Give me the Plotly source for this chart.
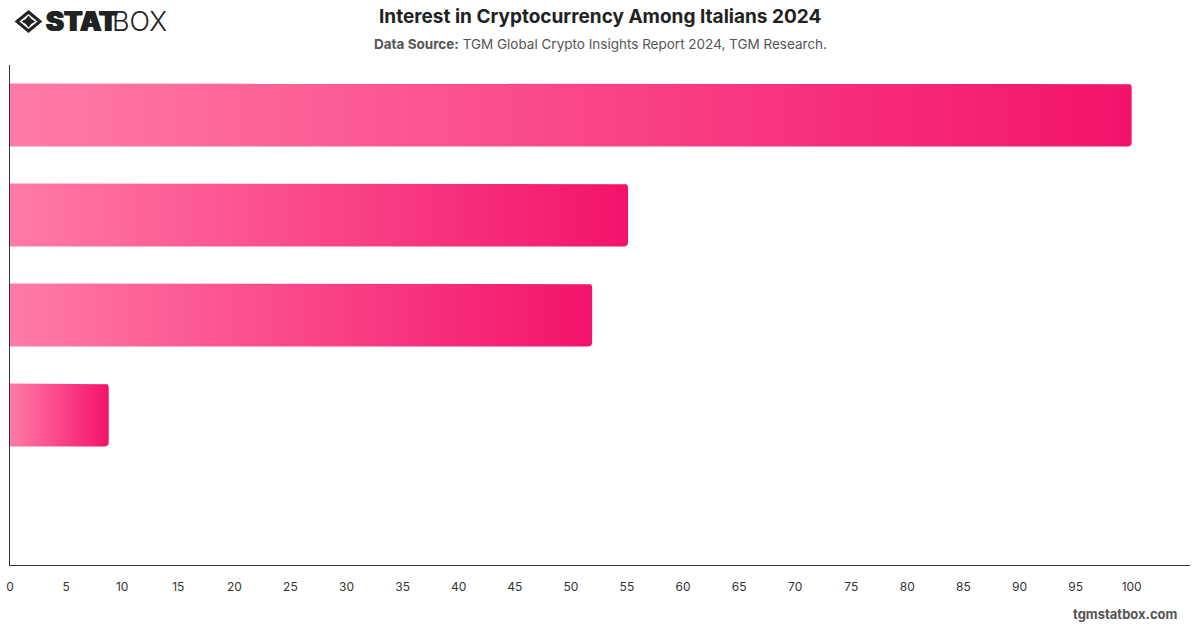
import numpy as np
import plotly.graph_objects as go

# ---- data ----
categories = ["Category A", "Category B", "Category C", "Category D", "Category E"]
values = [100, 55.1, 51.9, 8.8, None]
x_ticks = list(range(0, 101, 5))

title = "Interest in Cryptocurrency Among Italians 2024"
source_label = "Data Source:"
source_text = "TGM Global Crypto Insights Report 2024, TGM Research."

# ---- styling ----
W, H = 1200, 628
margin = dict(l=10, r=10, t=65, b=63)
x_range = [0, 105.2]
bar_half = 0.315
color_start = "#ff7ba7"
color_end = "#f3136a"
radius_px = 3.5

plot_w = W - margin["l"] - margin["r"]
plot_h = H - margin["t"] - margin["b"]
n = len(categories)
y_range = [n - 0.5, -0.5]
px_x = (x_range[1] - x_range[0]) / plot_w   # data units per pixel (x)
px_y = n / plot_h                           # data units per pixel (y)


def px(x, y):
    """pixel position -> paper coordinates"""
    return (x - margin["l"]) / plot_w, 1 - (y - margin["t"]) / plot_h


fig = go.Figure()

for i, (cat, v) in enumerate(zip(categories, values)):
    if v is None or v <= 0:
        continue
    rx = radius_px * px_x
    ry = radius_px * px_y
    y0, y1 = i - bar_half, i + bar_half
    xs, ys = [0, v - rx], [y0, y0]
    for t in np.linspace(-np.pi / 2, 0, 6):
        xs.append(v - rx + rx * np.cos(t))
        ys.append(y0 + ry + ry * np.sin(t))
    for t in np.linspace(0, np.pi / 2, 6):
        xs.append(v - rx + rx * np.cos(t))
        ys.append(y1 - ry + ry * np.sin(t))
    xs += [0, 0]
    ys += [y1, y0]
    fig.add_trace(go.Scatter(
        x=xs, y=ys, mode="lines", fill="toself",
        line=dict(width=0, color=color_end),
        fillgradient=dict(type="horizontal",
                          colorscale=[[0, color_start], [1, color_end]]),
        name=cat, hoverinfo="skip", showlegend=False,
    ))

fig.update_layout(
    width=W, height=H,
    margin=dict(margin, autoexpand=False),
    paper_bgcolor="white", plot_bgcolor="white",
    font=dict(family="Inter, Roboto, sans-serif", color="#333"),
    showlegend=False,
    xaxis=dict(
        range=x_range, tickmode="array", tickvals=x_ticks,
        ticktext=[str(t) for t in x_ticks],
        showgrid=False, zeroline=False, automargin=False,
        showline=True, linecolor="#333", linewidth=1,
        ticks="", ticklabelstandoff=11,
        tickfont=dict(size=12, color="#333"),
    ),
    yaxis=dict(
        range=y_range, showgrid=False, zeroline=False, automargin=False,
        showline=True, linecolor="#333", linewidth=1,
        showticklabels=False, ticks="",
    ),
)

annotations = [
    dict(text=f"<b>{title}</b>", x=600, y=17,
         font=dict(size=19, color="#222")),
    dict(text=f"<b>{source_label}</b> {source_text}", x=600, y=44,
         font=dict(size=13.5, color="#555")),
    dict(text="<b>tgmstatbox.com</b>", x=1180, y=614,
         xanchor="right", font=dict(size=13, color="#555")),
    dict(text="STAT", x=44, y=22, xanchor="left",
         font=dict(size=27, color="#222", family="Inter", weight=900,
                   shadow="0.7px 0 0 #222, -0.7px 0 0 #222")),
    dict(text="BOX", x=110, y=22, xanchor="left",
         font=dict(size=27, color="#222", family="Inter", weight=300)),
]
for a in annotations:
    a.setdefault("xanchor", "center")
    a["yanchor"] = "middle"
    a["showarrow"] = False
    a["xref"] = "paper"
    a["yref"] = "paper"
    a["x"], a["y"] = px(a["x"], a["y"])
fig.update_layout(annotations=annotations)

# ---- logo icon (decorative) ----
cx, cy = 28.5, 21.5


def path(points, closed=True, curves=None):
    parts = []
    for k, (x, y) in enumerate(points):
        X, Y = px(x, y)
        parts.append(("M" if k == 0 else "L") + f"{X:.6f},{Y:.6f}")
    return " ".join(parts) + (" Z" if closed else "")


outer = [(cx - 11.5, cy), (cx, cy - 9.5), (cx + 11.5, cy), (cx, cy + 9.5)]
fig.add_shape(type="path", xref="paper", yref="paper",
              path=path(outer), line=dict(color="#222", width=3),
              fillcolor="rgba(0,0,0,0)")

# inner concave diamond
inner_pts = [(cx - 7, cy), (cx, cy - 6), (cx + 7, cy), (cx, cy + 6)]
ctrl = [(cx - 2.2, cy - 1.9), (cx + 2.2, cy - 1.9), (cx + 2.2, cy + 1.9), (cx - 2.2, cy + 1.9)]
segs = []
X0, Y0 = px(*inner_pts[0])
segs.append(f"M{X0:.6f},{Y0:.6f}")
for k in range(4):
    c = px(*ctrl[k])
    p = px(*inner_pts[(k + 1) % 4])
    segs.append(f"Q{c[0]:.6f},{c[1]:.6f} {p[0]:.6f},{p[1]:.6f}")
fig.add_shape(type="path", xref="paper", yref="paper",
              path=" ".join(segs) + " Z", line=dict(width=0),
              fillcolor="#222")

fig.write_html("out.html")
